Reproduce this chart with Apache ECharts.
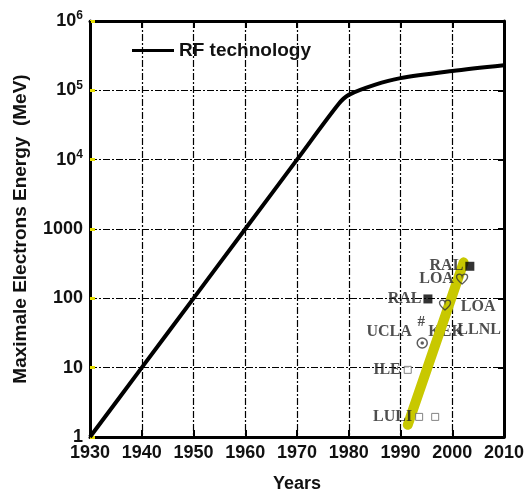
<!DOCTYPE html>
<html>
<head>
<meta charset="utf-8">
<script src="https://cdn.jsdelivr.net/npm/echarts@6/dist/echarts.min.js"></script>
<style>
    html, body {margin: 0; padding: 0; background: #fff;}
    #chart {width: 531px; height: 493px;}
</style>
</head>
<body>
<div id="chart"></div>
<script>
// RF technology curve
let rfYears = [1930, 1940, 1950, 1960, 1970, 1978, 1980, 1985, 1990, 2000, 2010];
let rfEnergy = [1, 10, 100, 1000, 10000, 63000, 86000, 120000, 150000, 190000, 230000];

// laser plasma trend (yellow band)
let trendYears = [1991.4, 2002.2];
let trendEnergy = [1.5, 330];

// experiments: [year, energy, label]
let filledSquares = [[2003.4, 290, 'RAL'], [1995.3, 98, 'RAL']];
let hearts = [[2001.9, 190, 'LOA'], [1998.6, 80, '']];
let openSquares = [[1991.4, 9.3, 'ILE'], [1993.6, 1.95, 'LULI'], [1996.7, 1.95, '']];
let circles = [[1994.2, 22.7, '']];
let hashes = [[1994, 45, '#']];
// labels placed apart from their marks
let freeLabels = [[1987.8, 32.7, 'UCLA'], [1998.8, 32.7, 'KEK'], [2005, 75, 'LOA'], [2005.2, 35, 'LLNL']];

let xTicks = [1930, 1940, 1950, 1960, 1970, 1980, 1990, 2000, 2010];

let chart = echarts.init(document.getElementById('chart'));

let serifLabel = {
    show: true,
    fontFamily: 'Liberation Serif',
    fontWeight: 'bold',
    fontSize: 16,
    color: '#222',
    formatter: function (p) {
        return p.value[2];
    }
};

let heartPath = 'path://M50,90 C10,60 0,40 0,25 C0,10 12,0 25,0 C38,0 48,10 50,20 C52,10 62,0 75,0 C88,0 100,10 100,25 C100,40 90,60 50,90 Z';

let gridLine = {
    show: true,
    lineStyle: {color: '#000', width: 1.2, type: [7, 2, 2, 2]}
};

let axisFont = {fontFamily: 'Liberation Sans', fontWeight: 'bold', color: '#111'};

let option = {
    animation: false,
    grid: {left: 90, top: 21, right: 27, bottom: 56, containLabel: false, outerBoundsMode: 'none'},
    legend: {
        left: 127,
        top: 36,
        itemWidth: 42,
        itemHeight: 3,
        itemGap: 8,
        icon: 'rect',
        textStyle: Object.assign({fontSize: 19}, axisFont),
        data: ['RF technology']
    },
    xAxis: [{
        type: 'value',
        min: 1930,
        max: 2010,
        interval: 10,
        name: 'Years',
        nameLocation: 'middle',
        nameGap: 38,
        nameTextStyle: Object.assign({fontSize: 18}, axisFont),
        axisLine: {show: true, onZero: false, lineStyle: {color: '#000', width: 3}},
        axisTick: {show: true, inside: true, length: 7, lineStyle: {color: '#000', width: 2}},
        axisLabel: Object.assign({
            fontSize: 18, margin: 7,
            formatter: function (v) {
                return xTicks.indexOf(v) >= 0 ? String(v) : '';
            }
        }, axisFont),
        splitLine: gridLine
    }, {
        type: 'value',
        position: 'top',
        min: 1930,
        max: 2010,
        interval: 10,
        axisLine: {show: true, lineStyle: {color: '#000', width: 3}},
        axisTick: {show: true, inside: true, length: 7, lineStyle: {color: '#000', width: 2}},
        axisLabel: {show: false},
        splitLine: {show: false}
    }],
    yAxis: [{
        type: 'log',
        logBase: 10,
        min: 1,
        max: 1000000,
        name: 'Maximale Electrons Energy  (MeV)',
        nameLocation: 'middle',
        nameGap: 60,
        nameTextStyle: Object.assign({fontSize: 19}, axisFont),
        axisLine: {show: true, lineStyle: {color: '#000', width: 3}},
        axisTick: {show: true, inside: true, length: 5, lineStyle: {color: '#e8e000', width: 3}},
        axisLabel: {
            margin: 7,
            formatter: function (v) {
                let e = Math.round(Math.log10(v));
                if (e >= 4) {
                    return '{b|10}{s|' + e + '}';
                }
                return '{b|' + Math.round(v) + '}';
            },
            rich: {
                b: Object.assign({fontSize: 18}, axisFont),
                s: Object.assign({fontSize: 12, verticalAlign: 'top', padding: [0, 0, 10, 0]}, axisFont)
            }
        },
        splitLine: gridLine
    }, {
        type: 'log',
        logBase: 10,
        min: 1,
        max: 1000000,
        position: 'right',
        axisLine: {show: true, lineStyle: {color: '#000', width: 3}},
        axisTick: {show: true, inside: true, length: 6, lineStyle: {color: '#000', width: 2}},
        axisLabel: {show: false},
        splitLine: {show: false}
    }],
    series: [{
        name: 'RF technology',
        type: 'line',
        smooth: 0.3,
        symbol: 'none',
        color: '#000',
        lineStyle: {color: '#000', width: 4},
        data: rfYears.map((y, i) => [y, rfEnergy[i]])
    }, {
        name: 'trend',
        type: 'line',
        symbol: 'none',
        lineStyle: {color: '#c8c800', width: 10, cap: 'round'},
        data: trendYears.map((y, i) => [y, trendEnergy[i]]),
        z: 3
    }, {
        name: 'filled',
        type: 'scatter',
        symbol: 'rect',
        symbolSize: 9,
        itemStyle: {color: '#000'},
        label: Object.assign({}, serifLabel, {position: 'left', distance: 2}),
        data: filledSquares,
        z: 4
    }, {
        name: 'hearts',
        type: 'scatter',
        symbol: heartPath,
        symbolSize: [11, 10],
        itemStyle: {color: 'transparent', borderColor: '#333', borderWidth: 1.3},
        label: Object.assign({}, serifLabel, {position: 'left', distance: 2}),
        data: hearts,
        z: 4
    }, {
        name: 'open',
        type: 'scatter',
        symbol: 'rect',
        symbolSize: 7,
        itemStyle: {color: '#fff', borderColor: '#666', borderWidth: 1},
        label: Object.assign({}, serifLabel, {position: 'left', distance: 3}),
        data: openSquares,
        z: 4
    }, {
        name: 'circles',
        type: 'scatter',
        symbol: 'circle',
        symbolSize: 10,
        itemStyle: {color: '#fff', borderColor: '#333', borderWidth: 1.5},
        data: circles,
        z: 4
    }, {
        name: 'circleDots',
        type: 'scatter',
        symbol: 'circle',
        symbolSize: 3.5,
        itemStyle: {color: '#333'},
        data: circles,
        z: 5
    }, {
        name: 'hashes',
        type: 'scatter',
        symbol: 'circle',
        symbolSize: 1,
        itemStyle: {color: 'transparent'},
        label: Object.assign({}, serifLabel, {position: 'inside', fontSize: 15}),
        data: hashes,
        z: 4
    }, {
        name: 'labels',
        type: 'scatter',
        symbol: 'circle',
        symbolSize: 1,
        itemStyle: {color: 'transparent'},
        label: Object.assign({}, serifLabel, {position: 'inside'}),
        data: freeLabels,
        z: 2
    }]
};

chart.setOption(option);
</script>
</body>
</html>
